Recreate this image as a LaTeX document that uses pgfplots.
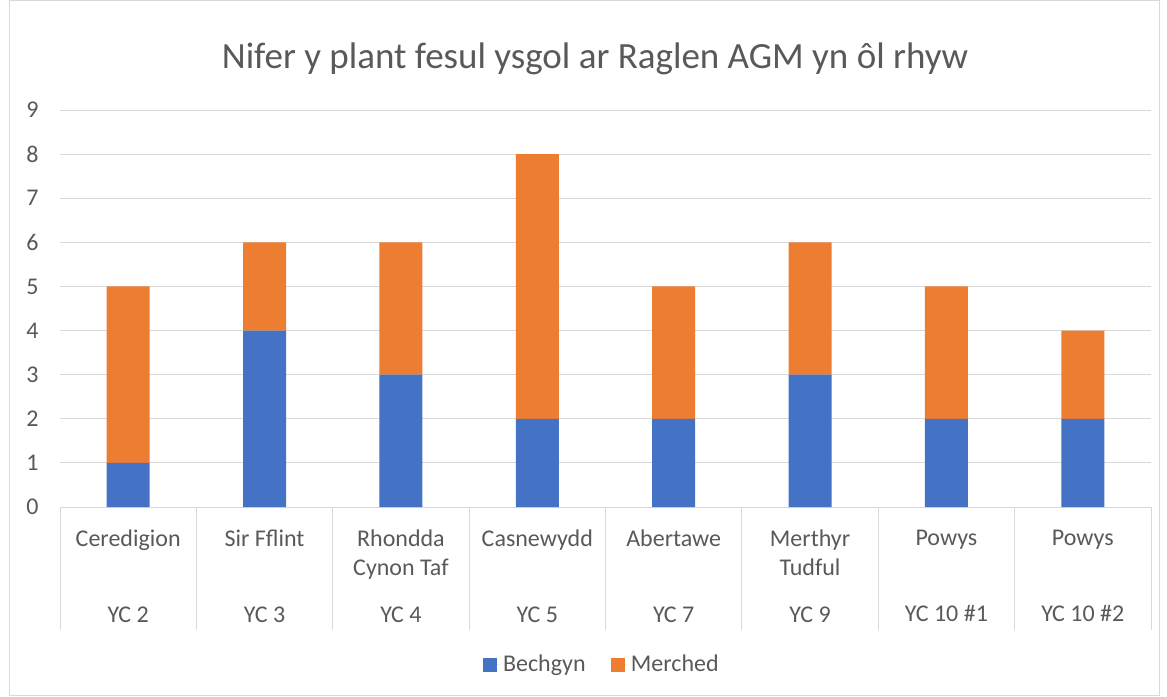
\documentclass[border=0pt]{standalone}
\usepackage{pgfplots}
\pgfplotsset{compat=1.18}
\usepackage{fontspec}
\setmainfont{Carlito}
\definecolor{cblue}{HTML}{4472C4}
\definecolor{corange}{HTML}{ED7D31}
\definecolor{gridgray}{HTML}{D9D9D9}
\definecolor{txtgray}{HTML}{595959}
\begin{document}
\begin{tikzpicture}
\path[use as bounding box] (0,0) rectangle (875.25pt,522pt);
\draw[gridgray, line width=0.75pt] (6.75pt,0.75pt) rectangle (869.25pt,521.25pt);
\node[font=\fontsize{27.75}{33}\selectfont, text=txtgray, anchor=base] at (446.25pt,470.5pt) {Nifer y plant fesul ysgol ar Raglen AGM yn ôl rhyw};
\begin{axis}[
  at={(45pt,141.75pt)}, anchor=south west,
  scale only axis, width=818.25pt, height=297.75pt,
  ybar stacked, bar width=32.25pt,
  xmin=-0.5, xmax=7.5, ymin=0, ymax=9,
  xtick={0,...,7}, ytick={0,...,9},
  xticklabels={
    {Ceredigion\\\mbox{}\\[13.5pt]YC 2},
    {Sir Fflint\\\mbox{}\\[13.5pt]YC 3},
    {Rhondda\\Cynon Taf\\[13.5pt]YC 4},
    {Casnewydd\\\mbox{}\\[13.5pt]YC 5},
    {Abertawe\\\mbox{}\\[13.5pt]YC 7},
    {Merthyr\\Tudful\\[13.5pt]YC 9},
    {Powys\\\mbox{}\\[13.5pt]YC 10 \#1},
    {Powys\\\mbox{}\\[13.5pt]YC 10 \#2}},
  /pgf/number format/assume math mode=true,
  axis line style={draw=none},
  major tick length=0pt,
  ymajorgrids, grid style={gridgray, line width=0.75pt},
  tick label style={font=\fontsize{18}{21.75}\selectfont, text=txtgray},
  xticklabel style={anchor=north, align=center, yshift=-13.5pt},
  yticklabel style={anchor=east, xshift=-12.5pt},
  legend style={at={(0.497,-0.397)}, anchor=center, draw=none, fill=none,
    font=\fontsize{18}{21.75}\selectfont, text=txtgray,
    /tikz/every even column/.append style={column sep=17pt}},
  legend columns=2,
  legend image code/.code={\fill[#1,draw=none] (0pt,-5.25pt) rectangle (10.5pt,5.25pt); \path (0pt,0pt) -- (13pt,0pt);},
  clip=false,
]
\addplot[fill=cblue, draw=none] coordinates {(0,1) (1,4) (2,3) (3,2) (4,2) (5,3) (6,2) (7,2)};
\addplot[fill=corange, draw=none] coordinates {(0,4) (1,2) (2,3) (3,6) (4,3) (5,3) (6,3) (7,2)};
\legend{Bechgyn, Merched}
\draw[gridgray, line width=0.75pt] (axis cs:-0.5,0) -- ++(0pt,-92.25pt);
\draw[gridgray, line width=0.75pt] (axis cs:0.5,0) -- ++(0pt,-92.25pt);
\draw[gridgray, line width=0.75pt] (axis cs:1.5,0) -- ++(0pt,-92.25pt);
\draw[gridgray, line width=0.75pt] (axis cs:2.5,0) -- ++(0pt,-92.25pt);
\draw[gridgray, line width=0.75pt] (axis cs:3.5,0) -- ++(0pt,-92.25pt);
\draw[gridgray, line width=0.75pt] (axis cs:4.5,0) -- ++(0pt,-92.25pt);
\draw[gridgray, line width=0.75pt] (axis cs:5.5,0) -- ++(0pt,-92.25pt);
\draw[gridgray, line width=0.75pt] (axis cs:6.5,0) -- ++(0pt,-92.25pt);
\draw[gridgray, line width=0.75pt] (axis cs:7.5,0) -- ++(0pt,-92.25pt);
\end{axis}
\end{tikzpicture}
\end{document}
